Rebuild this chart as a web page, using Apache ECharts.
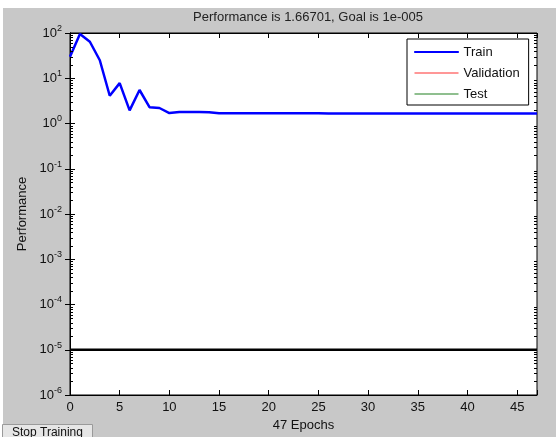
<!DOCTYPE html>
<html>
<head>
<meta charset="utf-8">
<script src="https://cdn.jsdelivr.net/npm/echarts@6/dist/echarts.min.js"></script>
<style>
  html, body { margin: 0; padding: 0; }
  #main { width: 556px; height: 437px; }
</style>
</head>
<body>
<div id="main"></div>
<script>
// training record
const epochs = [0,1,2,3,4,5,6,7,8,9,10,11,12,13,14,15,16,17,18,19,20,21,22,23,24,25,26,27,28,29,30,31,32,33,34,35,36,37,38,39,40,41,42,43,44,45,46,47]
const trainPerf = [30, 95, 64, 25, 4.1, 7.8, 1.95, 5.5, 2.3, 2.2, 1.7, 1.8, 1.8, 1.79, 1.78,
  1.68, 1.68, 1.68, 1.68, 1.68, 1.68, 1.68, 1.68, 1.68, 1.68, 1.68, 1.67, 1.67, 1.67, 1.67, 1.67,
  1.67, 1.67, 1.67, 1.67, 1.67, 1.67, 1.67, 1.67, 1.67, 1.67, 1.67, 1.67, 1.67, 1.67, 1.67, 1.667, 1.66701]
const goal = 1e-5
const xTicks = [0, 5, 10, 15, 20, 25, 30, 35, 40, 45]
const yTicks = [1e-6, 1e-5, 1e-4, 1e-3, 1e-2, 1e-1, 1, 10, 100]
const minorFactors = [2, 3, 4, 5, 6, 7, 8, 9]

const font = 'Liberation Sans'
let chart = echarts.init(document.getElementById('main'), null, { renderer: 'canvas' })

function powLabel(v) {
  let e = Math.round(Math.log10(v))
  return '{b|10}{e|' + e + '}'
}

// log minor ticks (decoration only)
let minorVals = []
yTicks.slice(0, -1).forEach(d => minorFactors.forEach(f => minorVals.push([0, d * f])))

let option = {
  backgroundColor: '#c8c8c8',
  animation: false,
  textStyle: { fontFamily: font },
  title: {
    text: 'Performance is 1.66701, Goal is 1e-005',
    left: 303, top: 6, textAlign: 'center',
    textStyle: { fontSize: 13, fontWeight: 'normal', color: '#222', fontFamily: font }
  },
  legend: {
    orient: 'vertical',
    left: 407, top: 39,
    backgroundColor: '#fff', borderColor: '#000', borderWidth: 1, borderRadius: 0,
    padding: [6, 9, 4, 7],
    itemGap: 7, itemWidth: 44, itemHeight: 1,
    icon: 'rect',
    textStyle: { fontSize: 13, color: '#111', fontFamily: font, lineHeight: 14 },
    data: [
      { name: 'Train', itemStyle: { color: '#0000ff', borderColor: '#0000ff', borderWidth: 1 } },
      { name: 'Validation', itemStyle: { color: '#ff3030', borderWidth: 0 } },
      { name: 'Test', itemStyle: { color: '#208020', borderWidth: 0 } }
    ]
  },
  grid: {
    left: 70, right: 19, top: 33, bottom: 40,
    show: true, backgroundColor: '#fff', borderColor: '#000', borderWidth: 1
  },
  xAxis: [{
    type: 'value', min: 0, max: 47, interval: 5,
    name: '47 Epochs', nameLocation: 'middle', nameGap: 24,
    nameTextStyle: { fontSize: 13, color: '#111', fontFamily: font },
    axisLine: { lineStyle: { color: '#000' } },
    axisTick: { inside: true, length: 5, lineStyle: { color: '#000' } },
    axisLabel: {
      fontSize: 13, color: '#111', margin: 6, fontFamily: font,
      formatter: v => xTicks.includes(v) ? String(v) : ''
    },
    splitLine: { show: false }
  }, {
    type: 'value', min: 0, max: 47, interval: 5, position: 'top',
    axisLine: { lineStyle: { color: '#000' } },
    axisTick: { inside: true, length: 5, lineStyle: { color: '#000' } },
    axisLabel: { show: false }, splitLine: { show: false }
  }],
  yAxis: [{
    type: 'log', logBase: 10, min: 1e-6, max: 100,
    name: 'Performance', nameLocation: 'middle', nameGap: 38, nameRotate: 90,
    nameTextStyle: { fontSize: 13, color: '#111', fontFamily: font },
    axisLine: { lineStyle: { color: '#000' } },
    axisTick: { inside: true, length: 5, lineStyle: { color: '#000' } },
    axisLabel: {
      margin: 8, color: '#111', fontFamily: font,
      formatter: v => yTicks.some(t => Math.abs(Math.log10(t) - Math.log10(v)) < 1e-6) ? powLabel(v) : '',
      rich: {
        b: { fontSize: 13, color: '#111', fontFamily: font },
        e: { fontSize: 9, color: '#111', fontFamily: font, padding: [0, 0, 9, 0] }
      }
    },
    splitLine: { show: false }
  }, {
    type: 'log', logBase: 10, min: 1e-6, max: 100, position: 'right',
    axisLine: { lineStyle: { color: '#000' } },
    axisTick: { inside: true, length: 5, lineStyle: { color: '#000' } },
    axisLabel: { show: false }, splitLine: { show: false }
  }],
  graphic: [
    { type: 'rect', shape: { x: 0, y: 0, width: 556, height: 8 }, style: { fill: '#fff' }, silent: true },
    { type: 'rect', shape: { x: 0, y: 0, width: 3, height: 437 }, style: { fill: '#fff' }, silent: true },
    {
      type: 'group', left: 2, top: 424,
      children: [
        { type: 'rect', shape: { x: 0, y: 0, width: 90, height: 16 }, style: { fill: '#e6e6e6', stroke: '#9a9a9a', lineWidth: 1 } },
        { type: 'text', x: 45, y: 8, style: { text: 'Stop Training', fontSize: 12, fill: '#111', fontFamily: font, align: 'center', verticalAlign: 'middle' } }
      ]
    }
  ],
  series: [{
    name: 'Train', type: 'line', symbol: 'none',
    data: epochs.map((e, i) => [e, trainPerf[i]]),
    lineStyle: { color: '#0000ff', width: 2.5 }, itemStyle: { color: '#0000ff' }, z: 5
  }, {
    name: 'Validation', type: 'line', symbol: 'none', data: [],
    lineStyle: { color: '#ff3030', width: 1 }, itemStyle: { color: '#ff3030' }
  }, {
    name: 'Test', type: 'line', symbol: 'none', data: [],
    lineStyle: { color: '#208020', width: 1 }, itemStyle: { color: '#208020' }
  }, {
    name: 'Goal', type: 'line', symbol: 'none',
    data: [[0, goal], [47, goal]],
    lineStyle: { color: '#000', width: 2.5 }, z: 4
  }, {
    name: 'minor', type: 'custom', silent: true, z: 6,
    data: minorVals,
    renderItem: (params, api) => {
      let v = api.value(1)
      let a = api.coord([0, v])
      let b = api.coord([47, v])
      let y = Math.round(a[1]) + 0.5
      return {
        type: 'group',
        children: [
          { type: 'line', shape: { x1: a[0], y1: y, x2: a[0] + 3, y2: y }, style: { stroke: '#000', lineWidth: 1 } },
          { type: 'line', shape: { x1: b[0] - 3, y1: y, x2: b[0], y2: y }, style: { stroke: '#000', lineWidth: 1 } }
        ]
      }
    }
  }]
}
chart.setOption(option)
</script>
</body>
</html>
